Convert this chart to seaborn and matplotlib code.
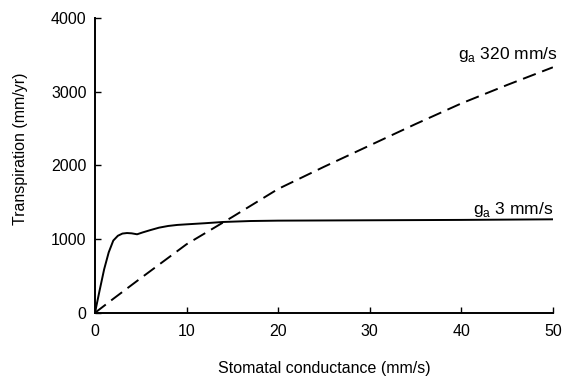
import numpy as np
import pandas as pd
import matplotlib
matplotlib.use("Agg")
import matplotlib.pyplot as plt
import seaborn as sns

gs_low = [0, 0.25, 0.5, 1.0, 1.5, 2.0, 2.5, 3.0, 3.5, 4.0, 4.6, 5.2, 6, 7, 8, 9, 10,
          12, 14, 17, 20, 30, 40, 50]
trans_low = [0, 150, 300, 590, 820, 980, 1045, 1075, 1082, 1078, 1065, 1090, 1120, 1155,
             1178, 1192, 1200, 1215, 1232, 1245, 1250, 1255, 1260, 1268]

gs_high = [0, 2, 5, 10, 15, 20, 25, 30, 35, 40, 45, 50]
trans_high = [0, 190, 470, 930, 1300, 1680, 1980, 2270, 2560, 2840, 3090, 3330]

x_ticks = [0, 10, 20, 30, 40, 50]
y_ticks = [0, 1000, 2000, 3000, 4000]

df_low = pd.DataFrame({"gs": gs_low, "E": trans_low})
df_high = pd.DataFrame({"gs": gs_high, "E": trans_high})

sns.set_style("ticks")
plt.rcParams['font.family'] = ['Liberation Sans', 'DejaVu Sans']
plt.rcParams['mathtext.fontset'] = 'custom'
plt.rcParams['mathtext.rm'] = 'Liberation Sans'
plt.rcParams['text.color'] = 'black'
plt.rcParams['axes.labelcolor'] = 'black'

fig = plt.figure(figsize=(5.63, 3.81), dpi=100)
ax = fig.add_axes([0.1687, 0.179, 0.8133, 0.774])

sns.lineplot(data=df_low, x="gs", y="E", ax=ax, color="black", lw=1.4)
sns.lineplot(data=df_high, x="gs", y="E", ax=ax, color="black", lw=1.4,
             linestyle=(0, (7, 3.5)))

ax.set_xlim(0, 50)
ax.set_ylim(0, 4000)
ax.set_xticks(x_ticks)
ax.set_yticks(y_ticks)
ax.tick_params(direction="in", length=4, width=1, labelsize=11.5, colors="black")
ax.tick_params(axis="x", pad=8)
ax.tick_params(axis="y", pad=6)
for s in ["top", "right"]:
    ax.spines[s].set_visible(False)
for s in ["left", "bottom"]:
    ax.spines[s].set_linewidth(1.4)
    ax.spines[s].set_color("black")

ax.set_xlabel("Stomatal conductance (mm/s)", fontsize=11.5)
ax.set_ylabel("Transpiration (mm/yr)", fontsize=11.5)
ax.xaxis.set_label_coords(0.5, -0.162)
ax.yaxis.set_label_coords(-0.146, 0.558)

ax.text(50.5, 3448, r"g$_\mathregular{a}$ 320 mm/s", ha="right", va="baseline", fontsize=12.5)
ax.text(50, 1339, r"g$_\mathregular{a}$ 3 mm/s", ha="right", va="baseline", fontsize=12.5)

fig.savefig("out.png", dpi=100)
